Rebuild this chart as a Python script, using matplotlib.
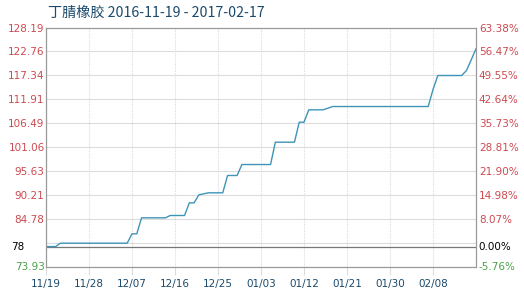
import matplotlib
matplotlib.use("Agg")
import matplotlib.pyplot as plt
import matplotlib.dates as mdates
import matplotlib.transforms as mtransforms
import pandas as pd

title = "丁腈橡胶 2016-11-19 - 2017-02-17"
dates = ["2016-11-19", "2016-11-21", "2016-11-22", "2016-12-06", "2016-12-07",
         "2016-12-08", "2016-12-09", "2016-12-14", "2016-12-15", "2016-12-18",
         "2016-12-19", "2016-12-20", "2016-12-21", "2016-12-23", "2016-12-26",
         "2016-12-27", "2016-12-29", "2016-12-30", "2017-01-05", "2017-01-06",
         "2017-01-10", "2017-01-11", "2017-01-12", "2017-01-13", "2017-01-16",
         "2017-01-18", "2017-02-07", "2017-02-08", "2017-02-09", "2017-02-14",
         "2017-02-15", "2017-02-16", "2017-02-17"]
values = [78.45, 78.45, 79.22, 79.22, 81.35,
          81.35, 84.98, 84.98, 85.51, 85.51,
          88.39, 88.39, 90.21, 90.66, 90.66,
          94.59, 94.59, 97.08, 97.08, 102.15,
          102.15, 106.69, 106.69, 109.50, 109.50,
          110.25, 110.25, 114.10, 117.29, 117.29,
          118.42, 120.85, 123.35]
base_value = 78.45
base_label = "78"
base_pct_label = "0.00%"
y_ticks = [73.93, 79.36, 84.78, 90.21, 95.63, 101.06, 106.49, 111.91, 117.34, 122.76, 128.19]
y_labels = ["73.93", "", "84.78", "90.21", "95.63", "101.06", "106.49", "111.91", "117.34", "122.76", "128.19"]
pct_labels = ["-5.76%", "", "8.07%", "14.98%", "21.90%", "28.81%", "35.73%", "42.64%", "49.55%", "56.47%", "63.38%"]
x_tick_dates = ["2016-11-19", "2016-11-28", "2016-12-07", "2016-12-16", "2016-12-25",
                "2017-01-03", "2017-01-12", "2017-01-21", "2017-01-30", "2017-02-08"]
x_start, x_end = "2016-11-19", "2017-02-17"

red = "#cc4a50"
green = "#4aa04a"
blue_text = "#1b4a6b"
grid_c = "#dcdcdc"

fig = plt.figure(figsize=(5.24, 2.97), dpi=100)
ax = fig.add_axes([46/524, 1-266.5/297, 430/524, 239/297])
x = pd.to_datetime(dates)
ax.plot(x, values, color="#3f94b8", lw=1.0, zorder=3)
ax.set_xlim(pd.Timestamp(x_start), pd.Timestamp(x_end))
ax.set_ylim(y_ticks[0], y_ticks[-1])

ax.set_yticks(y_ticks)
ax.set_yticklabels(y_labels)
for lbl, t in zip(ax.get_yticklabels(), y_labels):
    lbl.set_color(green if t == "73.93" else red)
ax.tick_params(axis="y", length=0, labelsize=7.5, pad=1)
ax.grid(axis="y", color=grid_c, lw=0.8)
xt = pd.to_datetime(x_tick_dates)
ax.set_xticks(xt)
ax.xaxis.set_major_formatter(mdates.DateFormatter("%m/%d"))
ax.tick_params(axis="x", length=6, color=grid_c, labelsize=7.5, labelcolor=blue_text, pad=3)
for d in xt:
    ax.axvline(d, color=grid_c, lw=0.8, ls=(0, (1, 1)), zorder=1)
ax.axhline(base_value, color="#777777", lw=0.9, zorder=2)
ax.text(11/524, base_value, base_label,
        transform=mtransforms.blended_transform_factory(fig.transFigure, ax.transData),
        ha="left", va="center", fontsize=7.5, color="black")

for s in ax.spines.values():
    s.set_color("#999999")
    s.set_linewidth(0.8)

ax2 = ax.twinx()
ax2.set_ylim(ax.get_ylim())
ax2.set_yticks(y_ticks)
ax2.set_yticklabels(pct_labels)
for lbl, t in zip(ax2.get_yticklabels(), pct_labels):
    lbl.set_color(green if t.startswith("-") else red)
ax2.tick_params(axis="y", length=0, labelsize=7.5, pad=2)
ax2.text(1.006, base_value, base_pct_label, transform=ax2.get_yaxis_transform(),
         ha="left", va="center", fontsize=7.5, color="black")
for s in ax2.spines.values():
    s.set_color("#999999")
    s.set_linewidth(0.8)

fig.text(48/524, 1-13/297, title, ha="left", va="center", fontsize=10.2,
         color=blue_text, family=["Noto Sans CJK SC", "DejaVu Sans"])

fig.savefig("out.png", dpi=100)
